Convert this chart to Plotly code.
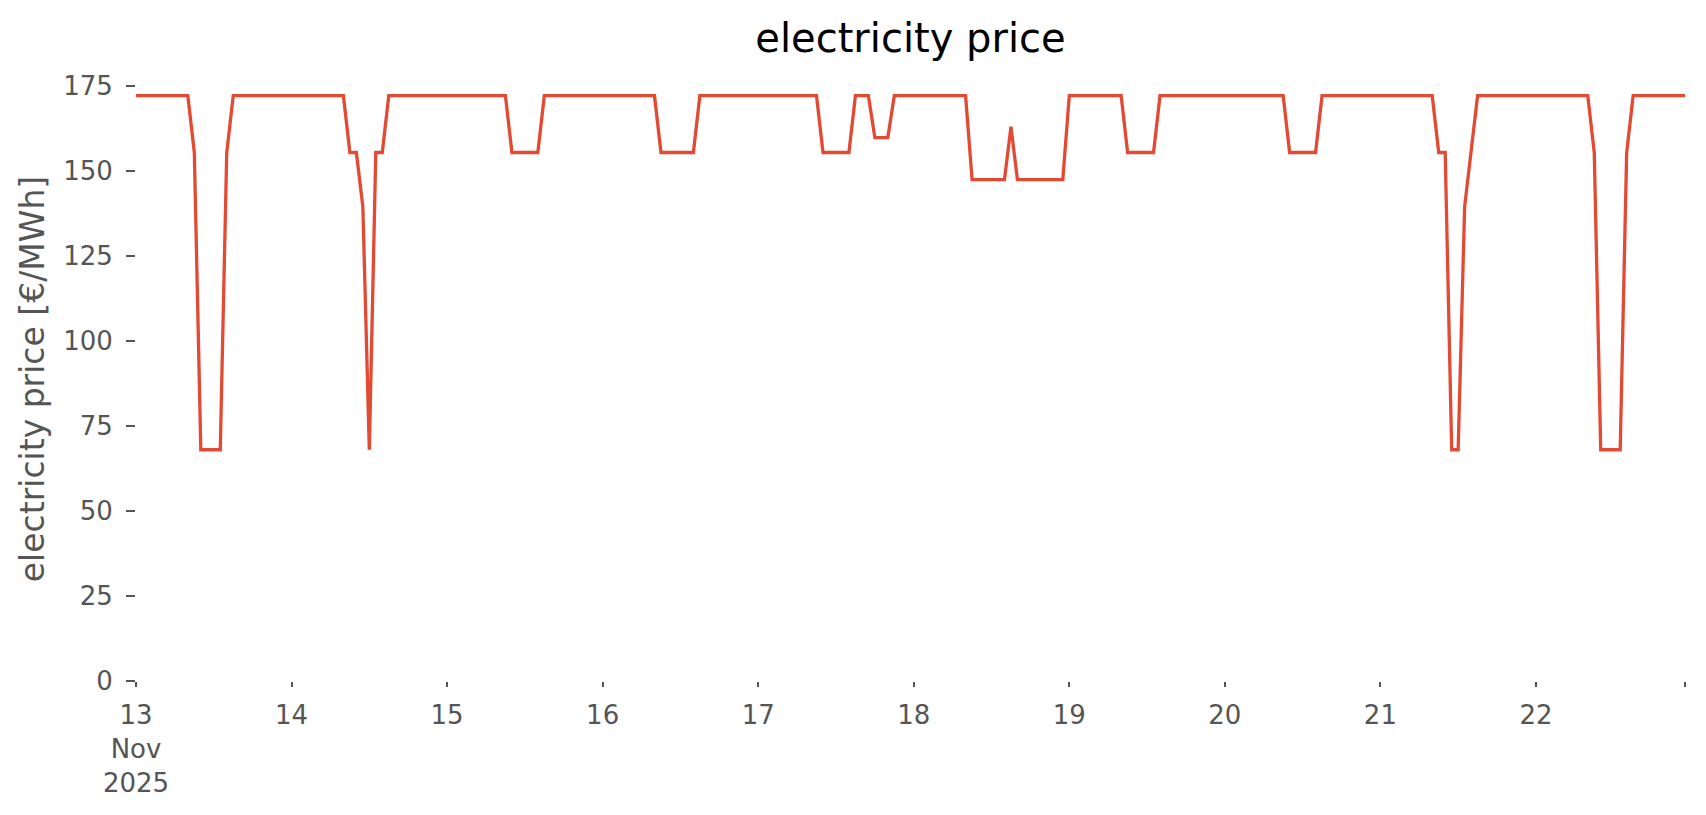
import pandas as pd
import plotly.graph_objects as go

# hourly electricity price, 13 Nov 2025 00:00 .. 22 Nov 2025 23:00 (one row per day)
price_day13 = [172.1, 172.1, 172.1, 172.1, 172.1, 172.1, 172.1, 172.1, 172.1, 155.4, 68.0, 68.0,
               68.0, 68.0, 155.4, 172.1, 172.1, 172.1, 172.1, 172.1, 172.1, 172.1, 172.1, 172.1]
price_day14 = [172.1, 172.1, 172.1, 172.1, 172.1, 172.1, 172.1, 172.1, 172.1, 155.4, 155.4, 139.5,
               68.0, 155.4, 155.4, 172.1, 172.1, 172.1, 172.1, 172.1, 172.1, 172.1, 172.1, 172.1]
price_day15 = [172.1, 172.1, 172.1, 172.1, 172.1, 172.1, 172.1, 172.1, 172.1, 172.1, 155.4, 155.4,
               155.4, 155.4, 155.4, 172.1, 172.1, 172.1, 172.1, 172.1, 172.1, 172.1, 172.1, 172.1]
price_day16 = [172.1, 172.1, 172.1, 172.1, 172.1, 172.1, 172.1, 172.1, 172.1, 155.4, 155.4, 155.4,
               155.4, 155.4, 155.4, 172.1, 172.1, 172.1, 172.1, 172.1, 172.1, 172.1, 172.1, 172.1]
price_day17 = [172.1, 172.1, 172.1, 172.1, 172.1, 172.1, 172.1, 172.1, 172.1, 172.1, 155.4, 155.4,
               155.4, 155.4, 155.4, 172.1, 172.1, 172.1, 159.8, 159.8, 159.8, 172.1, 172.1, 172.1]
price_day18 = [172.1, 172.1, 172.1, 172.1, 172.1, 172.1, 172.1, 172.1, 172.1, 147.4, 147.4, 147.4,
               147.4, 147.4, 147.4, 163.0, 147.4, 147.4, 147.4, 147.4, 147.4, 147.4, 147.4, 147.4]
price_day19 = [172.1, 172.1, 172.1, 172.1, 172.1, 172.1, 172.1, 172.1, 172.1, 155.4, 155.4, 155.4,
               155.4, 155.4, 172.1, 172.1, 172.1, 172.1, 172.1, 172.1, 172.1, 172.1, 172.1, 172.1]
price_day20 = [172.1, 172.1, 172.1, 172.1, 172.1, 172.1, 172.1, 172.1, 172.1, 172.1, 155.4, 155.4,
               155.4, 155.4, 155.4, 172.1, 172.1, 172.1, 172.1, 172.1, 172.1, 172.1, 172.1, 172.1]
price_day21 = [172.1, 172.1, 172.1, 172.1, 172.1, 172.1, 172.1, 172.1, 172.1, 155.4, 155.4, 68.0,
               68.0, 139.5, 155.4, 172.1, 172.1, 172.1, 172.1, 172.1, 172.1, 172.1, 172.1, 172.1]
price_day22 = [172.1, 172.1, 172.1, 172.1, 172.1, 172.1, 172.1, 172.1, 172.1, 155.4, 68.0, 68.0,
               68.0, 68.0, 155.4, 172.1, 172.1, 172.1, 172.1, 172.1, 172.1, 172.1, 172.1, 172.1]

price = (price_day13 + price_day14 + price_day15 + price_day16 + price_day17 +
         price_day18 + price_day19 + price_day20 + price_day21 + price_day22)

start_time = "2025-11-13 00:00"
times = pd.date_range(start_time, periods=len(price), freq="h")

day_ticks = ["2025-11-13", "2025-11-14", "2025-11-15", "2025-11-16", "2025-11-17",
             "2025-11-18", "2025-11-19", "2025-11-20", "2025-11-21", "2025-11-22"]
day_labels = ["13", "14", "15", "16", "17", "18", "19", "20", "21", "22"]
first_label_extra = ["Nov", "2025"]
y_ticks = [0, 25, 50, 75, 100, 125, 150, 175]

FONT = "DejaVu Sans"
GREY = "#555555"
PAD = "\u00a0"

# every label gets three lines so that plotly aligns them identically
tick_text = ([day_labels[0] + "<br>" + "<br>".join(first_label_extra)] +
             [lab + "<br>" + PAD + "<br>" + PAD for lab in day_labels[1:]] + [""])

fig = go.Figure()
fig.add_trace(go.Scatter(
    x=times, y=price, mode="lines",
    line=dict(color="#E24A33", width=3.3),
    showlegend=False,
))

fig.update_layout(
    width=1706, height=815,
    paper_bgcolor="white", plot_bgcolor="white",
    margin=dict(l=136, r=21, t=77, b=134, autoexpand=False),
    font=dict(family=FONT, color=GREY),
    title=dict(text="electricity price", x=0.5, xanchor="center", xref="paper",
               y=1 - 38 / 815, yanchor="middle", yref="container",
               font=dict(family=FONT, size=40, color="black")),
)

fig.update_xaxes(
    range=[times[0], times[-1]],
    tickvals=list(pd.to_datetime(day_ticks)) + [times[-1]],
    ticktext=tick_text,
    showgrid=False, zeroline=False, showline=False,
    ticks="outside", ticklen=5, tickwidth=1.5, tickcolor=GREY,
    tickfont=dict(family=FONT, size=26, color=GREY),
    ticklabelstandoff=6,
    automargin=False,
)
fig.update_yaxes(
    range=[0, 177.6],
    tickvals=y_ticks,
    showgrid=False, zeroline=False, showline=False,
    ticks="outside", ticklen=9, tickwidth=2, tickcolor=GREY,
    tickfont=dict(family=FONT, size=26, color=GREY),
    ticklabelstandoff=8,
    title=dict(text="electricity price [€/MWh]", standoff=8,
               font=dict(family=FONT, size=33, color=GREY)),
    automargin=False,
)

fig.write_html("out.html",
               config={"displayModeBar": False},
               post_script="document.body.style.margin='0';document.body.style.overflow='hidden';")
